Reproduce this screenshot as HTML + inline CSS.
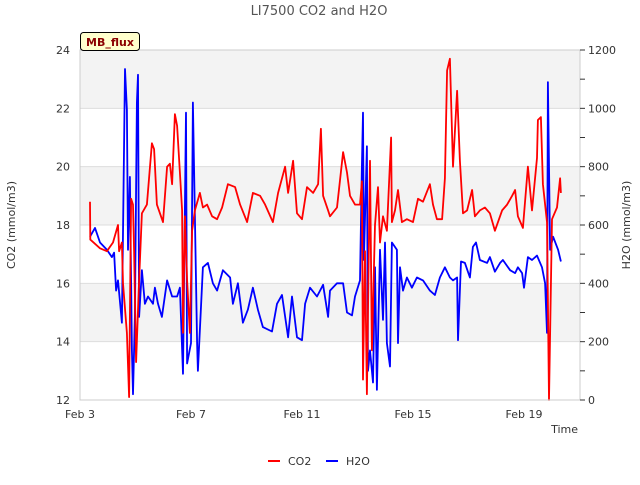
<!DOCTYPE html>
<html><head><meta charset="utf-8"><style>
body{margin:0;background:#fff;font-family:"Liberation Sans","DejaVu Sans",sans-serif}
svg text{font-family:"DejaVu Sans","Liberation Sans",sans-serif}
</style></head><body>
<svg id="chart" width="640" height="480" xmlns="http://www.w3.org/2000/svg">
<text x="319" y="15" text-anchor="middle" font-size="13" fill="#555">LI7500 CO2 and H2O</text>
<g id="bands"></g>
<g id="plot"></g>
<g id="axes"></g>
<rect x="80.5" y="32.5" width="59" height="18" rx="3" fill="#ffffcc" stroke="#000"/>
<text x="110" y="46" text-anchor="middle" font-size="11" font-weight="bold" fill="#8b0000">MB_flux</text>
<text x="15" y="225" transform="rotate(-90 15 225)" text-anchor="middle" font-size="11" fill="#333">CO2 (mmol/m3)</text>
<text x="630" y="225" transform="rotate(-90 630 225)" text-anchor="middle" font-size="11" fill="#333">H2O (mmol/m3)</text>
<text x="578" y="433" text-anchor="end" font-size="11" fill="#333">Time</text>
<g>
<line x1="268" y1="461" x2="280" y2="461" stroke="#f00" stroke-width="2"/>
<text x="288" y="465" font-size="11" fill="#333">CO2</text>
<line x1="326" y1="461" x2="338" y2="461" stroke="#00f" stroke-width="2"/>
<text x="346" y="465" font-size="11" fill="#333">H2O</text>
</g>
</svg>
<script>
const xTickLabels=["Feb 3","Feb 7","Feb 11","Feb 15","Feb 19"];
const xTickDays=[0,4,8,12,16];
const leftTicks=[12,14,16,18,20,22,24];
const rightTicks=[0,200,400,600,800,1000,1200];
const co2Days=[0.36,0.37,0.72,0.97,1.19,1.37,1.41,1.51,1.55,1.69,1.77,1.84,1.91,1.95,2.02,2.13,2.23,2.41,2.59,2.67,2.77,2.99,3.14,3.24,3.32,3.42,3.50,3.60,3.68,3.71,3.78,3.86,3.96,4.04,4.14,4.32,4.43,4.58,4.76,4.94,5.12,5.33,5.59,5.77,6.02,6.23,6.49,6.67,6.95,7.14,7.39,7.50,7.68,7.82,8.00,8.18,8.40,8.58,8.68,8.76,8.94,9.01,9.26,9.48,9.62,9.73,9.91,10.09,10.16,10.20,10.27,10.34,10.45,10.52,10.63,10.74,10.81,10.92,11.06,11.21,11.24,11.35,11.46,11.60,11.78,12.00,12.18,12.36,12.61,12.72,12.86,13.05,13.15,13.23,13.33,13.44,13.59,13.69,13.80,13.95,14.13,14.23,14.41,14.59,14.77,14.95,15.21,15.39,15.57,15.68,15.78,15.96,16.14,16.29,16.47,16.50,16.61,16.68,16.83,16.90,17.01,17.19,17.30,17.33];
const co2Values=[18.8,17.5,17.2,17.1,17.4,18.0,17.1,17.4,16.0,14.3,12.1,18.9,18.7,17.1,13.3,16.1,18.4,18.7,20.8,20.6,18.7,18.1,20.0,20.1,19.4,21.8,21.4,19.8,18.5,14.3,18.3,16.1,14.3,17.8,18.5,19.1,18.6,18.7,18.3,18.2,18.6,19.4,19.3,18.7,18.1,19.1,19.0,18.7,18.1,19.1,20.0,19.1,20.2,18.4,18.2,19.3,19.1,19.4,21.3,19.0,18.5,18.3,18.6,20.5,19.8,19.0,18.7,18.7,19.5,12.7,17.1,12.2,20.2,13.7,18.0,19.3,17.4,18.3,17.8,21.0,18.1,18.5,19.2,18.1,18.2,18.1,18.9,18.8,19.4,18.7,18.2,18.2,19.6,23.3,23.7,20.0,22.6,20.2,18.4,18.5,19.2,18.3,18.5,18.6,18.4,17.8,18.5,18.7,19.0,19.2,18.3,17.9,20.0,18.5,20.3,21.6,21.7,19.4,18.1,12.0,18.2,18.6,19.6,19.1];
const h2oDays=[0.36,0.54,0.72,0.97,1.15,1.23,1.30,1.37,1.51,1.62,1.69,1.73,1.80,1.87,1.91,1.98,2.05,2.09,2.13,2.23,2.34,2.45,2.63,2.70,2.81,2.95,3.14,3.32,3.50,3.60,3.71,3.82,3.86,4.00,4.07,4.22,4.25,4.43,4.61,4.79,4.94,5.15,5.41,5.51,5.69,5.87,6.05,6.23,6.41,6.59,6.92,7.10,7.28,7.50,7.64,7.82,8.00,8.11,8.29,8.54,8.76,8.94,9.01,9.26,9.48,9.62,9.80,9.91,10.09,10.16,10.20,10.23,10.34,10.38,10.45,10.56,10.63,10.70,10.81,10.92,10.99,11.06,11.17,11.24,11.42,11.46,11.53,11.64,11.78,11.96,12.14,12.36,12.61,12.79,12.97,13.15,13.33,13.44,13.59,13.62,13.73,13.87,14.05,14.16,14.27,14.41,14.67,14.77,14.95,15.14,15.24,15.50,15.68,15.78,15.93,16.00,16.14,16.29,16.47,16.65,16.76,16.83,16.86,16.94,17.05,17.23,17.33];
const h2oValues=[560,590,540,515,490,505,375,410,265,1135,995,515,765,170,20,285,1020,1115,285,445,330,355,330,385,330,285,410,355,355,385,90,985,125,195,1020,195,100,455,470,400,375,445,420,330,400,265,310,385,310,250,235,330,360,215,355,215,205,330,385,355,395,285,375,400,400,300,290,355,410,800,985,480,870,100,170,60,455,35,515,275,540,195,115,540,515,195,455,375,420,385,420,410,375,360,420,455,420,410,420,205,475,470,420,525,540,480,470,490,440,470,480,445,435,455,435,385,490,480,495,455,400,230,1090,515,560,515,475];
const NS="http://www.w3.org/2000/svg";
const X0=80,X1=580,Y0=50,Y1=400,PXDAY=27.75;
const xs=d=>X0+d*PXDAY;
const yL=v=>Y1-(v-12)/12*(Y1-Y0);
const yR=v=>Y1-v/1200*(Y1-Y0);
function mk(tag,attrs,parent){const e=document.createElementNS(NS,tag);for(const k in attrs)e.setAttribute(k,attrs[k]);parent.appendChild(e);return e;}
const bands=document.getElementById('bands'),plot=document.getElementById('plot'),axes=document.getElementById('axes');
let bg=mk('rect',{x:X0,y:Y0,width:X1-X0,height:Y1-Y0,fill:'#fff'},bands);


[[22,24],[18,20],[14,16]].forEach(b=>{const r=mk('rect',{x:X0,y:yL(b[1]),width:X1-X0,height:yL(b[0])-yL(b[1]),fill:'#f3f3f3'},bands);

});
leftTicks.forEach(v=>{const l=mk('line',{x1:X0,x2:X1,y1:yL(v),y2:yL(v),stroke:'#ddd','stroke-width':1},bands);

});
function series(days,vals,yf,color,name){let d='';days.forEach((t,i)=>{d+=(i?'L':'M')+xs(t).toFixed(1)+','+yf(vals[i]).toFixed(1);});
const p=mk('path',{d:d,fill:'none',stroke:color,'stroke-width':1.8,'stroke-linejoin':'round'},plot);

}
series(h2oDays,h2oValues,yR,'#0000ff','h2o-line');
series(co2Days,co2Values,yL,'#ff0000','co2-line');
const frame=mk('rect',{x:X0,y:Y0,width:X1-X0,height:Y1-Y0,fill:'none',stroke:'#ccc'},axes);


leftTicks.forEach(v=>{const t=mk('text',{x:X0-10,y:yL(v)+4,'text-anchor':'end','font-size':11,fill:'#333'},axes);t.textContent=v;

});
for(let v=0;v<=1200;v+=100){const l=mk('line',{x1:X1,x2:X1+5,y1:yR(v),y2:yR(v),stroke:'#333'},axes);

}
rightTicks.forEach(v=>{const t=mk('text',{x:X1+8,y:yR(v)+4,'font-size':11,fill:'#333'},axes);t.textContent=v;

});
xTickDays.forEach((d,i)=>{const t=mk('text',{x:xs(d),y:Y1+18,'text-anchor':'middle','font-size':11,fill:'#333'},axes);t.textContent=xTickLabels[i];

});
</script>
</body></html>
